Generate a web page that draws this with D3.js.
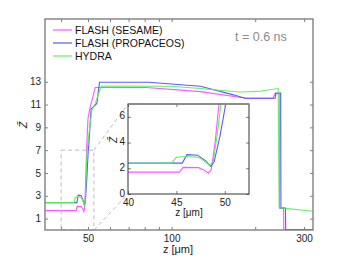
<!DOCTYPE html>
<html>
<head>
<meta charset="utf-8">
<script src="https://cdn.jsdelivr.net/npm/d3@7"></script>
<style>
  body { margin: 0; background: #fff; }
  svg { font-family: "Liberation Sans", Arial, sans-serif; }
  .tick line { stroke: #7f7f7f; }
  .tick text { fill: #222; font-size: 10px; }
</style>
</head>
<body>
<div id="chart"></div>
<script>
// z positions (um) and mean ionisation values
const sesameZ = [35, 45.3, 45.7, 47.3, 48.0, 48.3, 48.6, 49.0, 49.4, 50.0, 50.9, 52.0, 53.1, 81, 127, 186, 232, 235.5, 244, 244.6, 253, 253.6, 330];
const sesameV = [1.7, 1.7, 2.07, 2.05, 1.8, 1.62, 1.9, 4.0, 7.0, 9.8, 10.8, 11.6, 12.5, 12.5, 12.13, 11.55, 11.55, 11.95, 11.95, 1.92, 1.92, 0.05, 0.05];

const propZ = [35, 45.6, 46.1, 47.2, 48.0, 48.55, 48.9, 49.5, 50.1, 50.3, 51.3, 53.8, 55.0, 82.6, 127, 167, 184, 236, 237, 247, 247.6, 257, 257.6, 330];
const propV = [2.4, 2.4, 3.06, 3.02, 2.6, 2.15, 2.5, 4.5, 7.0, 7.4, 10.6, 11.1, 12.95, 12.95, 12.6, 11.85, 11.55, 11.55, 12.0, 12.0, 1.92, 1.92, 0.05, 0.05];

const hydraZ = [35, 44.5, 45.0, 45.5, 46.5, 47.3, 48.0, 48.45, 48.8, 49.2, 49.6, 51.6, 53.1, 55.8, 100, 127, 175, 205, 225, 242, 244, 257, 330];
const hydraV = [2.4, 2.4, 2.85, 2.9, 2.9, 2.85, 2.5, 2.2, 2.5, 4.5, 7.0, 10.5, 11.1, 12.62, 12.6, 12.4, 12.1, 12.15, 12.3, 12.4, 1.95, 1.9, 1.62];

const seriesNames = ["FLASH (SESAME)", "FLASH (PROPACEOS)", "HYDRA"];
const seriesColors = ["#ff44ff", "#4848ff", "#55ee55"];

const xTicks = [40, 50, 60, 70, 80, 90, 100, 200, 300];
const xLabeled = [50, 100, 300];
const yTicks = [1, 3, 5, 7, 9, 11, 13];
const insetXTicks = [40, 45, 50];
const insetYTicks = [0, 2, 4, 6];

const series = [
    { name: seriesNames[0], color: seriesColors[0], pts: sesameZ.map((z, i) => [z, sesameV[i]]) },
    { name: seriesNames[1], color: seriesColors[1], pts: propZ.map((z, i) => [z, propV[i]]) },
    { name: seriesNames[2], color: seriesColors[2], pts: hydraZ.map((z, i) => [z, hydraV[i]]) },
];

const W = 346, H = 260;
const m = { left: 45, right: 313, top: 19, bottom: 230 };
const ins = { left: 128, right: 249, top: 104, bottom: 194 };

const svg = d3.select("#chart").append("svg").attr("width", W).attr("height", H);

const x = d3.scaleLog().domain([35, 323]).range([m.left, m.right]);
const y = d3.scaleLinear().domain([0, 18.5]).range([m.bottom, m.top]);
const xi = d3.scaleLinear().domain([40, 52.5]).range([ins.left, ins.right]);
const yi = d3.scaleLinear().domain([0, 7]).range([ins.bottom, ins.top]);

const defs = svg.append("defs");
defs.append("clipPath").attr("id", "clipMain").append("rect")
    .attr("x", m.left).attr("y", m.top).attr("width", m.right - m.left).attr("height", m.bottom - m.top);
defs.append("clipPath").attr("id", "clipInset").append("rect")
    .attr("x", ins.left).attr("y", ins.top).attr("width", ins.right - ins.left).attr("height", ins.bottom - ins.top);

// main curves
const lineMain = d3.line().x(d => x(d[0])).y(d => y(d[1]));
const gMain = svg.append("g").attr("clip-path", "url(#clipMain)");
series.forEach(s => {
    gMain.append("path").datum(s.pts)
        .attr("d", lineMain)
        .attr("fill", "none")
        .attr("stroke", s.color)
        .attr("stroke-width", 1.1)
        .attr("opacity", 0.9);
});

// zoom rectangle and connectors
const dash = { stroke: "#bdbdbd", "stroke-dasharray": "4,3", fill: "none", "stroke-width": 1 };
function applyDash(sel) { Object.entries(dash).forEach(([k, v]) => sel.attr(k, v)); return sel; }
applyDash(svg.append("rect")
    .attr("x", x(40)).attr("y", y(7))
    .attr("width", x(52.5) - x(40)).attr("height", y(0) - y(7)));
applyDash(svg.append("line")
    .attr("x1", x(52.5)).attr("y1", y(7)).attr("x2", ins.left).attr("y2", ins.top));
applyDash(svg.append("line")
    .attr("x1", x(52.5)).attr("y1", y(0)).attr("x2", ins.left).attr("y2", ins.bottom));

// main axes
const gx = svg.append("g").attr("transform", `translate(0,${m.bottom})`)
    .call(d3.axisBottom(x).tickValues(xTicks).tickSize(-3).tickPadding(5)
        .tickFormat(d => xLabeled.includes(d) ? d : ""));
svg.append("g").attr("transform", `translate(0,${m.top})`)
    .call(d3.axisTop(x).tickValues(xTicks).tickSize(-3).tickFormat(""));
const gy = svg.append("g").attr("transform", `translate(${m.left},0)`)
    .call(d3.axisLeft(y).tickValues(yTicks).tickSize(-3).tickPadding(4));
svg.append("g").attr("transform", `translate(${m.right},0)`)
    .call(d3.axisRight(y).tickValues(yTicks).tickSize(-3).tickFormat(""));
svg.selectAll(".domain").remove();
gx.selectAll(".tick text").attr("font-size", 11);
gy.selectAll(".tick text").attr("font-size", 11);

svg.append("rect")
    .attr("x", m.left).attr("y", m.top)
    .attr("width", m.right - m.left).attr("height", m.bottom - m.top)
    .attr("fill", "none").attr("stroke", "#808080").attr("stroke-width", 1.4);

// inset
svg.append("rect")
    .attr("x", ins.left).attr("y", ins.top)
    .attr("width", ins.right - ins.left).attr("height", ins.bottom - ins.top)
    .attr("fill", "#fff");
const lineInset = d3.line().x(d => xi(d[0])).y(d => yi(d[1]));
const gIns = svg.append("g").attr("clip-path", "url(#clipInset)");
series.forEach(s => {
    gIns.append("path").datum(s.pts)
        .attr("d", lineInset)
        .attr("fill", "none")
        .attr("stroke", s.color)
        .attr("stroke-width", 1.1)
        .attr("opacity", 0.9);
});
const insG = svg.append("g");
insG.append("g").attr("transform", `translate(0,${ins.bottom})`)
    .call(d3.axisBottom(xi).tickValues(insetXTicks).tickSize(-3).tickPadding(5).tickFormat(d3.format("d")));
insG.append("g").attr("transform", `translate(0,${ins.top})`)
    .call(d3.axisTop(xi).tickValues(insetXTicks).tickSize(-3).tickFormat(""));
const gyi = insG.append("g").attr("transform", `translate(${ins.left},0)`)
    .call(d3.axisLeft(yi).tickValues(insetYTicks).tickSize(-3).tickPadding(3).tickFormat(d3.format("d")));
insG.append("g").attr("transform", `translate(${ins.right},0)`)
    .call(d3.axisRight(yi).tickValues(insetYTicks).tickSize(-3).tickFormat(""));
insG.selectAll(".domain").remove();
insG.selectAll(".tick text").attr("font-size", 10);
gyi.selectAll(".tick text").attr("dy", "0.2em");
insG.append("rect")
    .attr("x", ins.left).attr("y", ins.top)
    .attr("width", ins.right - ins.left).attr("height", ins.bottom - ins.top)
    .attr("fill", "none").attr("stroke", "#333").attr("stroke-width", 1);
insG.append("line")
    .attr("x1", ins.left).attr("x2", ins.right).attr("y1", ins.top).attr("y2", ins.top)
    .attr("stroke", "#888").attr("stroke-width", 1.6);

// labels
svg.append("text").attr("x", 178).attr("y", 253)
    .attr("text-anchor", "middle").attr("font-size", 11).attr("fill", "#222")
    .text("z [μm]");
svg.append("text").attr("x", 189).attr("y", 216)
    .attr("text-anchor", "middle").attr("font-size", 10).attr("fill", "#222")
    .text("z [μm]");
svg.append("text").attr("transform", "translate(27,125) rotate(-90)")
    .attr("text-anchor", "middle").attr("font-size", 11).attr("font-style", "italic").attr("fill", "#222")
    .text("Z\u0304");
svg.append("text").attr("transform", "translate(117,140) rotate(-90)")
    .attr("text-anchor", "middle").attr("font-size", 10).attr("font-style", "italic").attr("fill", "#222")
    .text("Z\u0304");
svg.append("text").attr("x", 235).attr("y", 41)
    .attr("font-size", 12.5).attr("fill", "#8c8c8c")
    .text("t = 0.6 ns");

// legend
const leg = svg.append("g");
series.forEach((s, i) => {
    const ly = 30 + i * 13;
    leg.append("line").attr("x1", 53).attr("x2", 72).attr("y1", ly).attr("y2", ly)
        .attr("stroke", s.color).attr("stroke-width", 1.1);
    leg.append("text").attr("x", 75).attr("y", ly + 4)
        .attr("font-size", 10.5).attr("fill", "#111")
        .text(s.name);
});
</script>
</body>
</html>
